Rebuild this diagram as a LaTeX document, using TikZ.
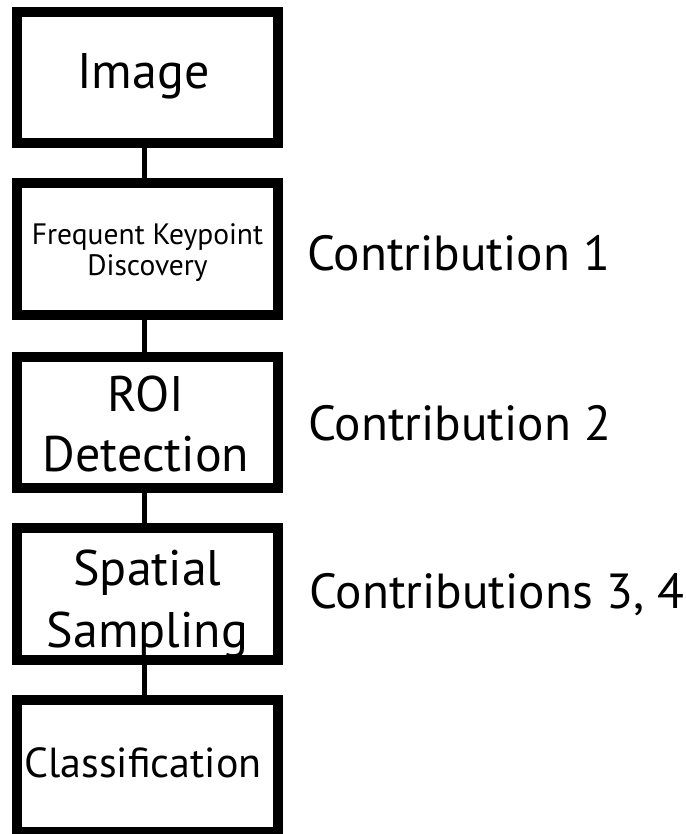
\documentclass[tikz,border=0pt]{standalone}
\usepackage{fontspec}
\setmainfont{PT Sans}
\begin{document}
\begin{tikzpicture}[x=1pt,y=-1pt,
  stage/.style={draw, line width=10pt, minimum width=261pt, inner sep=0pt},
  link/.style={line width=5pt},
  big/.style={font=\fontsize{50}{60}\selectfont, align=center, inner sep=0pt, anchor=base},
  mid/.style={font=\fontsize{42}{50}\selectfont, inner sep=0pt, anchor=base},
  small/.style={font=\fontsize{29.5}{31}\selectfont, align=center, inner sep=0pt, anchor=base},
  note/.style={font=\fontsize{49.3}{60}\selectfont, inner sep=0pt, anchor=base west}]
\useasboundingbox (0,0) rectangle (685,834);

% pipeline stages
\node[stage, minimum height=131pt] (b1) at (147.5,77.5) {};
\node[stage, minimum height=132pt] (b2) at (147.5,249) {};
\node[stage, minimum height=131pt] (b3) at (147.5,422.5) {};
\node[stage, minimum height=132pt] (b4) at (147.5,594) {};
\node[stage, minimum height=132pt] (b5) at (147.5,766) {};

% stage labels (base anchor = baseline of the last line)
\node[small] (t2) at (147.5,275) {Frequent Keypoint\\[0pt]Discovery};
\node[big] (t1) at (143.5,89) {Image};
\node[big] (t3) at (146,471) {ROI\\[0pt]Detection};
\node[big] (t4) at (147.5,647) {Spatial\\[2pt]Sampling};
\node[mid] (t5) at (143,777) {Classification};

% links between stages
\foreach \a/\b in {b1/b2,b2/b3,b3/b4,b4/b5}
  \draw[link] ([xshift=-3.5pt]\a.south) -- ([xshift=-3.5pt]\b.north);

% contributions
\node[note] (c1) at (307,270) {Contribution 1};
\node[note] (c2) at (308,440) {Contribution 2};
\node[note] (c3) at (309,608) {Contributions 3, 4};
\end{tikzpicture}
\end{document}
